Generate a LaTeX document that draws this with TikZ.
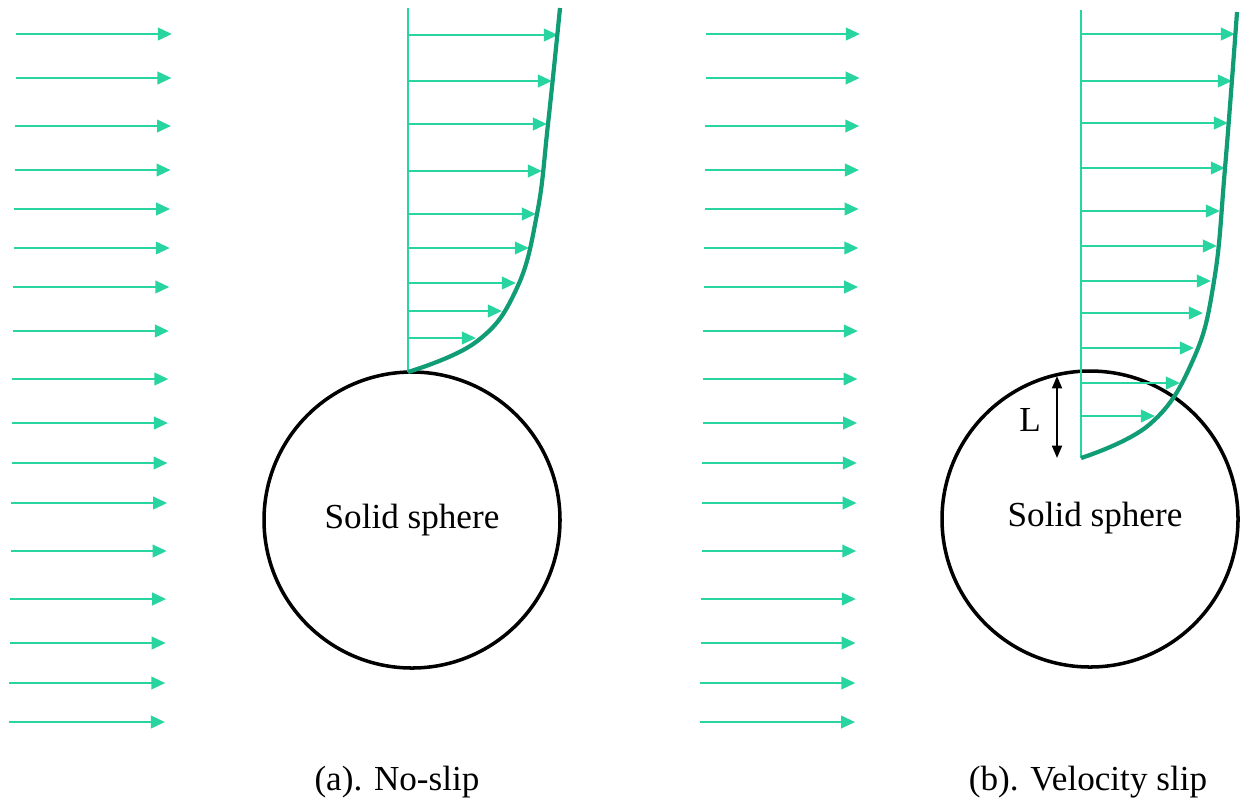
\documentclass[tikz,border=0pt]{standalone}
\usepackage{fontspec}
\setmainfont{Liberation Serif}
\usetikzlibrary{arrows.meta}
\definecolor{flowgreen}{RGB}{40,212,160}
\definecolor{profgreen}{RGB}{16,156,116}
\begin{document}
\begin{tikzpicture}[x=0.1mm, y=-0.1mm, font=\fontsize{10}{12}\selectfont,
    flow/.style={draw=flowgreen, line width=0.8pt, -{Triangle[length=4pt, width=3.5pt]}},
    wall/.style={draw=flowgreen, line width=0.5pt},
    profile/.style={draw=profgreen, line width=1.2pt},
    sphere/.style={circle, draw, line width=1pt, minimum size=29.6mm, inner sep=0pt}]
    \useasboundingbox (0,0) rectangle (1244,801);

    % free stream, both panels
    \foreach \y in {34,78,126,170,209,248,287,331,379,423,463,503,551,599,643,683,722} {
        \pgfmathsetmacro{\s}{-7*(\y-34)/688}
        \draw[flow] (16+\s,\y) -- (172+\s,\y);
        \draw[flow] (706+\s*0.85,\y) -- (860+\s*0.7,\y);
    }

    % (a) No-slip
    \node[sphere] (SA) at (412,520) {Solid sphere};
    \coordinate (A0) at (408,372);
    \coordinate (A1) at (408,8);
    \draw[wall] (A0) -- (A1);
    \foreach \y/\x in {35/558,81/552,124/547,171/542,214/536,248/529,283/516,311/502,338/476}
        \draw[flow] (408,\y) -- (\x,\y);
    \draw[profile] plot[smooth, tension=0.7] coordinates {(A0) (476,342) (516,290) (537,214) (548,124) (560,8)};
    \node[anchor=base] (capA) at (397,790) {(a). No-slip};

    % (b) Velocity slip
    \node[sphere] (SB) at (1090,519) {};
    \node (txtB) at (1095,518) {Solid sphere};
    \coordinate (B0) at (1081,458);
    \coordinate (B1) at (1081,10);
    \draw[wall] (B0) -- (B1);
    \foreach \y/\x in {34/1235,81/1232,123/1228,168/1225,211/1220,246/1217,281/1211,313/1203,348/1194,383/1180,416/1155}
        \draw[flow] (1081,\y) -- (\x,\y);
    \draw[profile] plot[smooth, tension=0.7] coordinates {(B0) (1150,424) (1193,360) (1214,281) (1225,168) (1237,12)};
    \coordinate (Ltop) at (1057,376);
    \coordinate (Lbot) at (1057,458);
    \draw[line width=0.6pt, {Triangle[length=3.5pt, width=2.8pt]}-{Triangle[length=3.5pt, width=2.8pt]}] (Ltop) -- (Lbot);
    \node (Llab) at (1030,420) {L};
    \node[anchor=base] (capB) at (1088,790) {(b). Velocity slip};
\end{tikzpicture}
\end{document}
